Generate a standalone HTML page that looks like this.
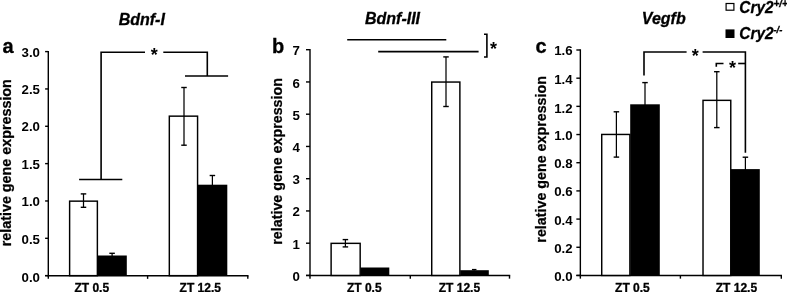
<!DOCTYPE html>
<html lang="en">
<head>
<meta charset="utf-8">
<title>Figure: relative gene expression of Bdnf-I, Bdnf-III and Vegfb</title>
<style>
html,body{margin:0;padding:0;background:#fff;}
body{width:787px;height:292px;overflow:hidden;}
svg{display:block;}
svg text{font-family:"Liberation Sans",sans-serif;fill:#000;}
</style>
</head>
<body>
<svg width="787" height="292" viewBox="0 0 787 292">
<rect x="0" y="0" width="787" height="292" fill="#fff"/>
<line x1="48.30" y1="50.90" x2="48.30" y2="278.85" stroke="#000" stroke-width="1.4" stroke-linecap="butt"/>
<line x1="45.10" y1="51.60" x2="48.30" y2="51.60" stroke="#000" stroke-width="1.4" stroke-linecap="butt"/>
<text transform="translate(40.00,56.75) scale(1.02,1)" font-size="13.0" text-anchor="end" style="font-weight:bold">3.0</text>
<line x1="45.10" y1="88.94" x2="48.30" y2="88.94" stroke="#000" stroke-width="1.4" stroke-linecap="butt"/>
<text transform="translate(40.00,94.21) scale(1.02,1)" font-size="13.0" text-anchor="end" style="font-weight:bold">2.5</text>
<line x1="45.10" y1="126.28" x2="48.30" y2="126.28" stroke="#000" stroke-width="1.4" stroke-linecap="butt"/>
<text transform="translate(40.00,131.47) scale(1.02,1)" font-size="13.0" text-anchor="end" style="font-weight:bold">2.0</text>
<line x1="45.10" y1="163.62" x2="48.30" y2="163.62" stroke="#000" stroke-width="1.4" stroke-linecap="butt"/>
<text transform="translate(40.00,168.63) scale(1.02,1)" font-size="13.0" text-anchor="end" style="font-weight:bold">1.5</text>
<line x1="45.10" y1="200.97" x2="48.30" y2="200.97" stroke="#000" stroke-width="1.4" stroke-linecap="butt"/>
<text transform="translate(40.00,206.39) scale(1.02,1)" font-size="13.0" text-anchor="end" style="font-weight:bold">1.0</text>
<line x1="45.10" y1="238.31" x2="48.30" y2="238.31" stroke="#000" stroke-width="1.4" stroke-linecap="butt"/>
<text transform="translate(40.00,244.05) scale(1.02,1)" font-size="13.0" text-anchor="end" style="font-weight:bold">0.5</text>
<line x1="45.10" y1="275.65" x2="48.30" y2="275.65" stroke="#000" stroke-width="1.4" stroke-linecap="butt"/>
<text transform="translate(40.00,281.50) scale(1.02,1)" font-size="13.0" text-anchor="end" style="font-weight:bold">0.0</text>
<line x1="45.10" y1="275.65" x2="48.30" y2="275.65" stroke="#000" stroke-width="1.4" stroke-linecap="butt"/>
<line x1="47.60" y1="275.65" x2="248.50" y2="275.65" stroke="#000" stroke-width="1.55" stroke-linecap="butt"/>
<line x1="147.60" y1="275.65" x2="147.60" y2="278.85" stroke="#000" stroke-width="1.4" stroke-linecap="butt"/>
<line x1="247.80" y1="275.65" x2="247.80" y2="278.85" stroke="#000" stroke-width="1.4" stroke-linecap="butt"/>
<rect x="69.62" y="201.15" width="27.75" height="74.50" fill="#fff" stroke="#000" stroke-width="1.45"/>
<rect x="97.60" y="255.50" width="29.20" height="20.15" fill="#000"/>
<rect x="169.32" y="116.15" width="28.25" height="159.50" fill="#fff" stroke="#000" stroke-width="1.45"/>
<rect x="197.70" y="184.70" width="29.60" height="90.95" fill="#000"/>
<line x1="83.50" y1="193.90" x2="83.50" y2="207.30" stroke="#000" stroke-width="1.25" stroke-linecap="butt"/>
<line x1="80.75" y1="193.90" x2="86.25" y2="193.90" stroke="#000" stroke-width="1.4" stroke-linecap="butt"/>
<line x1="80.75" y1="207.30" x2="86.25" y2="207.30" stroke="#000" stroke-width="1.4" stroke-linecap="butt"/>
<line x1="112.10" y1="253.30" x2="112.10" y2="256.00" stroke="#000" stroke-width="1.25" stroke-linecap="butt"/>
<line x1="109.35" y1="253.30" x2="114.85" y2="253.30" stroke="#000" stroke-width="1.4" stroke-linecap="butt"/>
<line x1="184.00" y1="87.50" x2="184.00" y2="145.20" stroke="#000" stroke-width="1.25" stroke-linecap="butt"/>
<line x1="181.25" y1="87.50" x2="186.75" y2="87.50" stroke="#000" stroke-width="1.4" stroke-linecap="butt"/>
<line x1="181.25" y1="145.20" x2="186.75" y2="145.20" stroke="#000" stroke-width="1.4" stroke-linecap="butt"/>
<line x1="212.40" y1="175.50" x2="212.40" y2="185.00" stroke="#000" stroke-width="1.25" stroke-linecap="butt"/>
<line x1="209.65" y1="175.50" x2="215.15" y2="175.50" stroke="#000" stroke-width="1.4" stroke-linecap="butt"/>
<polyline points="79.10,179.50 122.30,179.50" fill="none" stroke="#000" stroke-width="1.6" stroke-linejoin="miter"/>
<polyline points="101.10,179.50 101.10,52.20 145.00,52.20" fill="none" stroke="#000" stroke-width="1.6" stroke-linejoin="miter"/>
<polyline points="163.30,52.20 207.30,52.20 207.30,76.00" fill="none" stroke="#000" stroke-width="1.6" stroke-linejoin="miter"/>
<polyline points="185.00,76.00 228.10,76.00" fill="none" stroke="#000" stroke-width="1.6" stroke-linejoin="miter"/>
<text x="154.30" y="61.36" font-size="18" text-anchor="middle"  style="font-weight:bold">*</text>
<text x="141.80" y="24.60" font-size="16" text-anchor="middle"  style="font-weight:bold;font-style:italic;stroke:#000;stroke-width:0.3px">Bdnf-I</text>
<text x="2.60" y="52.60" font-size="20" text-anchor="start"  style="font-weight:bold;stroke:#000;stroke-width:0.3px">a</text>
<text transform="translate(11.20,162.70) rotate(-90)" font-size="14.1" text-anchor="middle" textLength="167.1" lengthAdjust="spacingAndGlyphs" style="font-weight:bold;stroke:#000;stroke-width:0.25px">relative gene expression</text>
<text x="91.80" y="291.80" font-size="12" text-anchor="middle"  style="font-weight:bold;stroke:#000;stroke-width:0.3px">ZT 0.5</text>
<text x="200.30" y="291.80" font-size="12" text-anchor="middle"  style="font-weight:bold;stroke:#000;stroke-width:0.3px">ZT 12.5</text>
<line x1="310.00" y1="49.00" x2="310.00" y2="278.65" stroke="#000" stroke-width="1.4" stroke-linecap="butt"/>
<line x1="306.00" y1="49.70" x2="310.00" y2="49.70" stroke="#000" stroke-width="1.4" stroke-linecap="butt"/>
<text transform="translate(299.90,55.35) scale(1.02,1)" font-size="13.0" text-anchor="end" style="font-weight:bold">7</text>
<line x1="306.00" y1="81.95" x2="310.00" y2="81.95" stroke="#000" stroke-width="1.4" stroke-linecap="butt"/>
<text transform="translate(299.90,87.56) scale(1.02,1)" font-size="13.0" text-anchor="end" style="font-weight:bold">6</text>
<line x1="306.00" y1="114.20" x2="310.00" y2="114.20" stroke="#000" stroke-width="1.4" stroke-linecap="butt"/>
<text transform="translate(299.90,119.77) scale(1.02,1)" font-size="13.0" text-anchor="end" style="font-weight:bold">5</text>
<line x1="306.00" y1="146.45" x2="310.00" y2="146.45" stroke="#000" stroke-width="1.4" stroke-linecap="butt"/>
<text transform="translate(299.90,151.98) scale(1.02,1)" font-size="13.0" text-anchor="end" style="font-weight:bold">4</text>
<line x1="306.00" y1="178.70" x2="310.00" y2="178.70" stroke="#000" stroke-width="1.4" stroke-linecap="butt"/>
<text transform="translate(299.90,184.18) scale(1.02,1)" font-size="13.0" text-anchor="end" style="font-weight:bold">3</text>
<line x1="306.00" y1="210.95" x2="310.00" y2="210.95" stroke="#000" stroke-width="1.4" stroke-linecap="butt"/>
<text transform="translate(299.90,216.39) scale(1.02,1)" font-size="13.0" text-anchor="end" style="font-weight:bold">2</text>
<line x1="306.00" y1="243.20" x2="310.00" y2="243.20" stroke="#000" stroke-width="1.4" stroke-linecap="butt"/>
<text transform="translate(299.90,248.60) scale(1.02,1)" font-size="13.0" text-anchor="end" style="font-weight:bold">1</text>
<line x1="306.00" y1="275.45" x2="310.00" y2="275.45" stroke="#000" stroke-width="1.4" stroke-linecap="butt"/>
<text transform="translate(299.90,280.80) scale(1.02,1)" font-size="13.0" text-anchor="end" style="font-weight:bold">0</text>
<line x1="306.00" y1="275.45" x2="310.00" y2="275.45" stroke="#000" stroke-width="1.4" stroke-linecap="butt"/>
<line x1="309.30" y1="275.45" x2="510.20" y2="275.45" stroke="#000" stroke-width="1.4" stroke-linecap="butt"/>
<line x1="410.30" y1="275.45" x2="410.30" y2="278.65" stroke="#000" stroke-width="1.4" stroke-linecap="butt"/>
<line x1="509.50" y1="275.45" x2="509.50" y2="278.65" stroke="#000" stroke-width="1.4" stroke-linecap="butt"/>
<rect x="331.12" y="243.35" width="29.05" height="32.10" fill="#fff" stroke="#000" stroke-width="1.45"/>
<rect x="360.40" y="267.50" width="28.90" height="7.95" fill="#000"/>
<rect x="431.73" y="82.05" width="28.15" height="193.40" fill="#fff" stroke="#000" stroke-width="1.45"/>
<rect x="460.20" y="270.20" width="28.60" height="5.25" fill="#000"/>
<line x1="345.40" y1="239.60" x2="345.40" y2="246.90" stroke="#000" stroke-width="1.25" stroke-linecap="butt"/>
<line x1="342.65" y1="239.60" x2="348.15" y2="239.60" stroke="#000" stroke-width="1.4" stroke-linecap="butt"/>
<line x1="342.65" y1="246.90" x2="348.15" y2="246.90" stroke="#000" stroke-width="1.4" stroke-linecap="butt"/>
<line x1="446.00" y1="56.90" x2="446.00" y2="106.50" stroke="#000" stroke-width="1.25" stroke-linecap="butt"/>
<line x1="443.25" y1="56.90" x2="448.75" y2="56.90" stroke="#000" stroke-width="1.4" stroke-linecap="butt"/>
<line x1="443.25" y1="106.50" x2="448.75" y2="106.50" stroke="#000" stroke-width="1.4" stroke-linecap="butt"/>
<line x1="474.20" y1="269.60" x2="474.20" y2="270.50" stroke="#000" stroke-width="1.25" stroke-linecap="butt"/>
<line x1="471.95" y1="269.60" x2="476.45" y2="269.60" stroke="#000" stroke-width="1.4" stroke-linecap="butt"/>
<line x1="347.20" y1="39.70" x2="446.30" y2="39.70" stroke="#000" stroke-width="1.6" stroke-linecap="butt"/>
<line x1="378.20" y1="51.60" x2="478.60" y2="51.60" stroke="#000" stroke-width="1.6" stroke-linecap="butt"/>
<polyline points="484.00,34.20 486.90,34.20 486.90,57.00 484.00,57.00" fill="none" stroke="#000" stroke-width="1.6" stroke-linejoin="miter"/>
<text x="493.40" y="54.76" font-size="18" text-anchor="middle"  style="font-weight:bold">*</text>
<text x="392.50" y="24.10" font-size="16" text-anchor="middle"  style="font-weight:bold;font-style:italic;stroke:#000;stroke-width:0.3px">Bdnf-III</text>
<text x="272.00" y="52.70" font-size="20" text-anchor="start"  style="font-weight:bold;stroke:#000;stroke-width:0.3px">b</text>
<text transform="translate(282.00,161.40) rotate(-90)" font-size="14.1" text-anchor="middle" textLength="166.7" lengthAdjust="spacingAndGlyphs" style="font-weight:bold;stroke:#000;stroke-width:0.25px">relative gene expression</text>
<text x="364.30" y="291.80" font-size="12" text-anchor="middle"  style="font-weight:bold;stroke:#000;stroke-width:0.3px">ZT 0.5</text>
<text x="459.40" y="291.80" font-size="12" text-anchor="middle"  style="font-weight:bold;stroke:#000;stroke-width:0.3px">ZT 12.5</text>
<line x1="580.35" y1="49.30" x2="580.35" y2="278.65" stroke="#000" stroke-width="1.4" stroke-linecap="butt"/>
<line x1="576.35" y1="50.00" x2="580.35" y2="50.00" stroke="#000" stroke-width="1.4" stroke-linecap="butt"/>
<text transform="translate(572.60,54.85) scale(1.02,1)" font-size="13.0" text-anchor="end" style="font-weight:bold">1.6</text>
<line x1="576.35" y1="78.18" x2="580.35" y2="78.18" stroke="#000" stroke-width="1.4" stroke-linecap="butt"/>
<text transform="translate(572.60,84.09) scale(1.02,1)" font-size="13.0" text-anchor="end" style="font-weight:bold">1.4</text>
<line x1="576.35" y1="106.36" x2="580.35" y2="106.36" stroke="#000" stroke-width="1.4" stroke-linecap="butt"/>
<text transform="translate(572.60,112.92) scale(1.02,1)" font-size="13.0" text-anchor="end" style="font-weight:bold">1.2</text>
<line x1="576.35" y1="134.54" x2="580.35" y2="134.54" stroke="#000" stroke-width="1.4" stroke-linecap="butt"/>
<text transform="translate(572.60,139.85) scale(1.02,1)" font-size="13.0" text-anchor="end" style="font-weight:bold">1.0</text>
<line x1="576.35" y1="162.72" x2="580.35" y2="162.72" stroke="#000" stroke-width="1.4" stroke-linecap="butt"/>
<text transform="translate(572.60,167.98) scale(1.02,1)" font-size="13.0" text-anchor="end" style="font-weight:bold">0.8</text>
<line x1="576.35" y1="190.91" x2="580.35" y2="190.91" stroke="#000" stroke-width="1.4" stroke-linecap="butt"/>
<text transform="translate(572.60,196.31) scale(1.02,1)" font-size="13.0" text-anchor="end" style="font-weight:bold">0.6</text>
<line x1="576.35" y1="219.09" x2="580.35" y2="219.09" stroke="#000" stroke-width="1.4" stroke-linecap="butt"/>
<text transform="translate(572.60,224.94) scale(1.02,1)" font-size="13.0" text-anchor="end" style="font-weight:bold">0.4</text>
<line x1="576.35" y1="247.27" x2="580.35" y2="247.27" stroke="#000" stroke-width="1.4" stroke-linecap="butt"/>
<text transform="translate(572.60,252.77) scale(1.02,1)" font-size="13.0" text-anchor="end" style="font-weight:bold">0.2</text>
<line x1="576.35" y1="275.45" x2="580.35" y2="275.45" stroke="#000" stroke-width="1.4" stroke-linecap="butt"/>
<text transform="translate(572.60,280.70) scale(1.02,1)" font-size="13.0" text-anchor="end" style="font-weight:bold">0.0</text>
<line x1="576.35" y1="275.45" x2="580.35" y2="275.45" stroke="#000" stroke-width="1.4" stroke-linecap="butt"/>
<line x1="579.65" y1="275.45" x2="782.00" y2="275.45" stroke="#000" stroke-width="1.4" stroke-linecap="butt"/>
<line x1="680.40" y1="275.45" x2="680.40" y2="278.65" stroke="#000" stroke-width="1.4" stroke-linecap="butt"/>
<line x1="781.30" y1="275.45" x2="781.30" y2="278.65" stroke="#000" stroke-width="1.4" stroke-linecap="butt"/>
<rect x="601.73" y="134.45" width="28.15" height="141.00" fill="#fff" stroke="#000" stroke-width="1.45"/>
<rect x="630.20" y="104.30" width="29.60" height="171.15" fill="#000"/>
<rect x="703.02" y="100.35" width="27.75" height="175.10" fill="#fff" stroke="#000" stroke-width="1.45"/>
<rect x="730.60" y="169.10" width="29.20" height="106.35" fill="#000"/>
<line x1="616.40" y1="111.80" x2="616.40" y2="157.10" stroke="#000" stroke-width="1.25" stroke-linecap="butt"/>
<line x1="613.65" y1="111.80" x2="619.15" y2="111.80" stroke="#000" stroke-width="1.4" stroke-linecap="butt"/>
<line x1="613.65" y1="157.10" x2="619.15" y2="157.10" stroke="#000" stroke-width="1.4" stroke-linecap="butt"/>
<line x1="645.00" y1="82.60" x2="645.00" y2="105.00" stroke="#000" stroke-width="1.25" stroke-linecap="butt"/>
<line x1="642.25" y1="82.60" x2="647.75" y2="82.60" stroke="#000" stroke-width="1.4" stroke-linecap="butt"/>
<line x1="716.80" y1="71.70" x2="716.80" y2="127.60" stroke="#000" stroke-width="1.25" stroke-linecap="butt"/>
<line x1="714.05" y1="71.70" x2="719.55" y2="71.70" stroke="#000" stroke-width="1.4" stroke-linecap="butt"/>
<line x1="714.05" y1="127.60" x2="719.55" y2="127.60" stroke="#000" stroke-width="1.4" stroke-linecap="butt"/>
<line x1="745.40" y1="157.20" x2="745.40" y2="170.00" stroke="#000" stroke-width="1.25" stroke-linecap="butt"/>
<line x1="742.65" y1="157.20" x2="748.15" y2="157.20" stroke="#000" stroke-width="1.4" stroke-linecap="butt"/>
<polyline points="644.00,75.50 644.00,52.00 686.60,52.00" fill="none" stroke="#000" stroke-width="1.6" stroke-linejoin="miter"/>
<polyline points="702.60,52.00 745.40,52.00 745.40,152.80" fill="none" stroke="#000" stroke-width="1.6" stroke-linejoin="miter"/>
<polyline points="716.30,66.70 716.30,63.50 723.50,63.50" fill="none" stroke="#000" stroke-width="1.6" stroke-linejoin="miter"/>
<line x1="738.20" y1="63.50" x2="745.40" y2="63.50" stroke="#000" stroke-width="1.6" stroke-linecap="butt"/>
<text x="695.30" y="61.86" font-size="18" text-anchor="middle"  style="font-weight:bold">*</text>
<text x="732.60" y="73.96" font-size="18" text-anchor="middle"  style="font-weight:bold">*</text>
<text x="663.80" y="24.10" font-size="16" text-anchor="middle"  style="font-weight:bold;font-style:italic;stroke:#000;stroke-width:0.3px">Vegfb</text>
<text x="535.60" y="52.70" font-size="20" text-anchor="start"  style="font-weight:bold;stroke:#000;stroke-width:0.3px">c</text>
<text transform="translate(546.00,159.35) rotate(-90)" font-size="14.1" text-anchor="middle" textLength="166.6" lengthAdjust="spacingAndGlyphs" style="font-weight:bold;stroke:#000;stroke-width:0.25px">relative gene expression</text>
<text x="632.40" y="291.80" font-size="12" text-anchor="middle"  style="font-weight:bold;stroke:#000;stroke-width:0.3px">ZT 0.5</text>
<text x="736.40" y="291.80" font-size="12" text-anchor="middle"  style="font-weight:bold;stroke:#000;stroke-width:0.3px">ZT 12.5</text>
<rect x="726.1" y="3.5" width="7.8" height="6.7" fill="#fff" stroke="#000" stroke-width="1.2"/>
<rect x="725.5" y="29.4" width="9" height="8.6" fill="#000"/>
<text transform="translate(739.3,12.5) scale(0.915,1)" font-size="16.9" style="font-weight:bold;font-style:italic;stroke:#000;stroke-width:0.3px">Cry2</text>
<text x="773.5" y="7.00" font-size="10" style="font-weight:bold;font-style:italic;stroke:#000;stroke-width:0.3px">+/+</text>
<text transform="translate(739.3,39.2) scale(0.915,1)" font-size="16.9" style="font-weight:bold;font-style:italic;stroke:#000;stroke-width:0.3px">Cry2</text>
<text x="773.5" y="33.30" font-size="9.4" style="font-weight:bold;font-style:italic;stroke:#000;stroke-width:0.3px">-/-</text>
</svg>
</body>
</html>
